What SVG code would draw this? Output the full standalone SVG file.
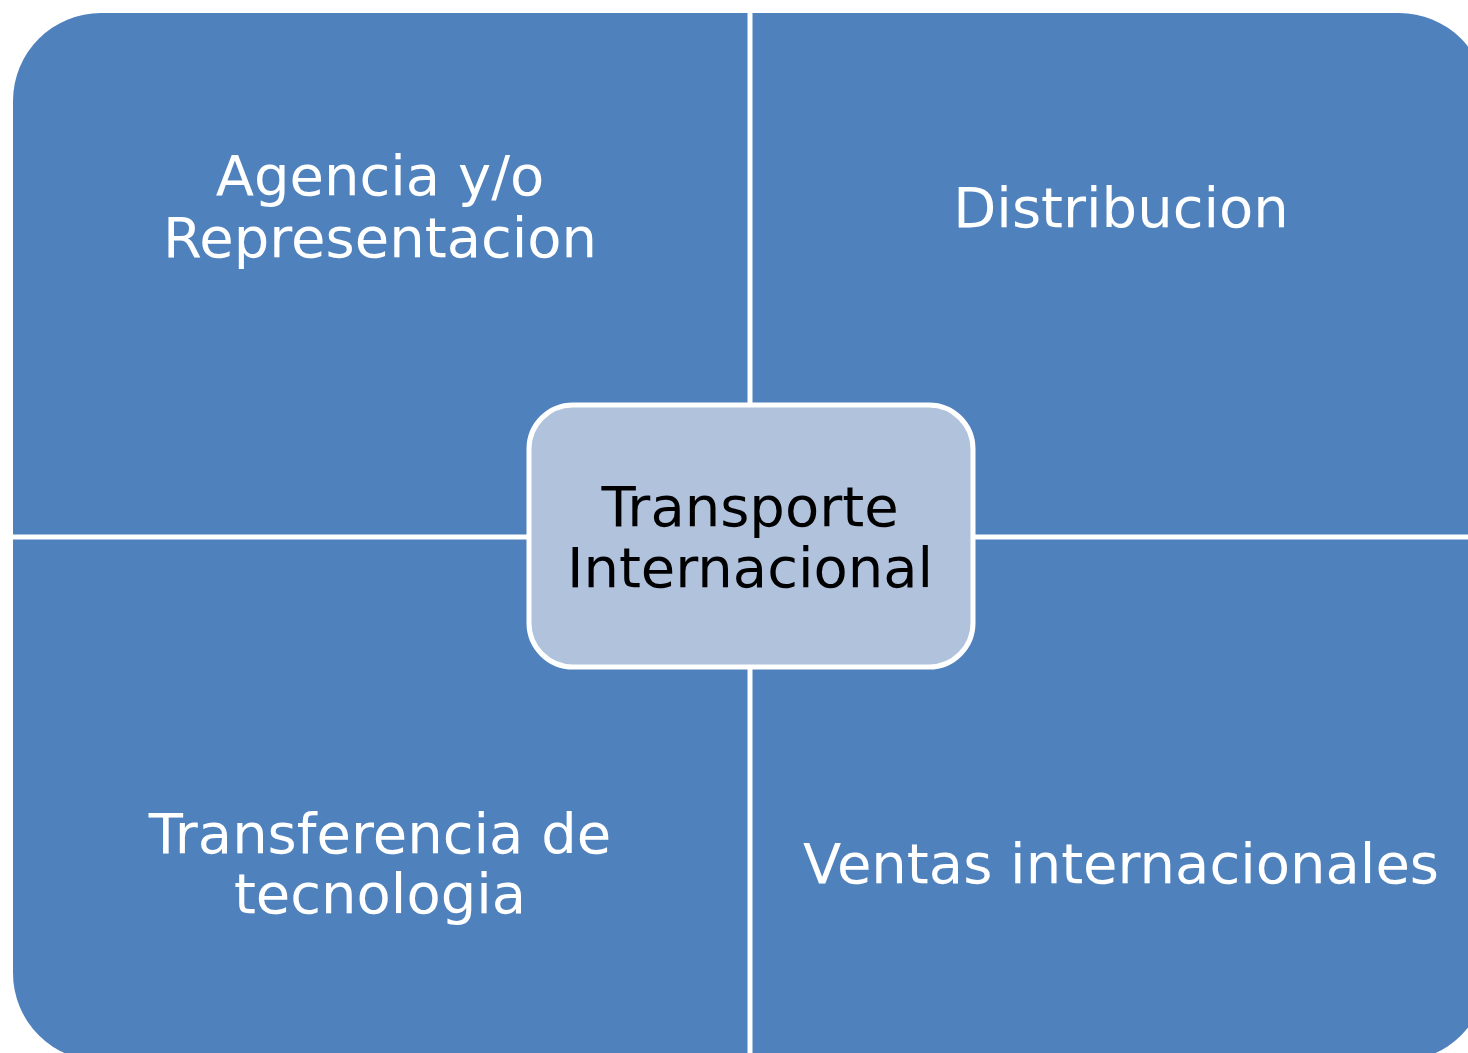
<svg xmlns="http://www.w3.org/2000/svg" width="1468" height="1053" viewBox="0 0 1468 1053">
<style>
.q{fill:#4F81BD}
.lbl{font-family:"DejaVu Sans",Verdana,sans-serif;font-size:56px;fill:#FFFFFF;text-anchor:middle}
.ctr{font-family:"DejaVu Sans",Verdana,sans-serif;font-size:56px;fill:#000000;text-anchor:middle}
.div{stroke:#FFFFFF;stroke-width:5;fill:none}
</style>
<rect width="1468" height="1053" fill="#FFFFFF"/>
<g id="matrix">
<rect class="q" x="13" y="13" width="1474" height="1048" rx="88" ry="88"/>
</g>
<g id="connectors">
<line class="div" x1="750" y1="0" x2="750" y2="1053"/>
<line class="div" x1="0" y1="537" x2="1468" y2="537"/>
</g>
<g id="node-agencia">
<text class="lbl" x="380" y="195">Agencia y/o</text>
<text class="lbl" x="380" y="257">Representacion</text>
</g>
<g id="node-distribucion">
<text class="lbl" x="1121" y="227">Distribucion</text>
</g>
<g id="node-transferencia">
<text class="lbl" x="380" y="853">Transferencia de</text>
<text class="lbl" x="380" y="913">tecnologia</text>
</g>
<g id="node-ventas">
<text class="lbl" x="1121" y="883">Ventas internacionales</text>
</g>
<g id="node-transporte">
<rect x="529" y="405" width="444" height="262" rx="44" ry="44" fill="#B1C2DD" stroke="#FFFFFF" stroke-width="5"/>
<text class="ctr" x="750" y="526">Transporte</text>
<text class="ctr" x="750" y="587">Internacional</text>
</g>
</svg>
